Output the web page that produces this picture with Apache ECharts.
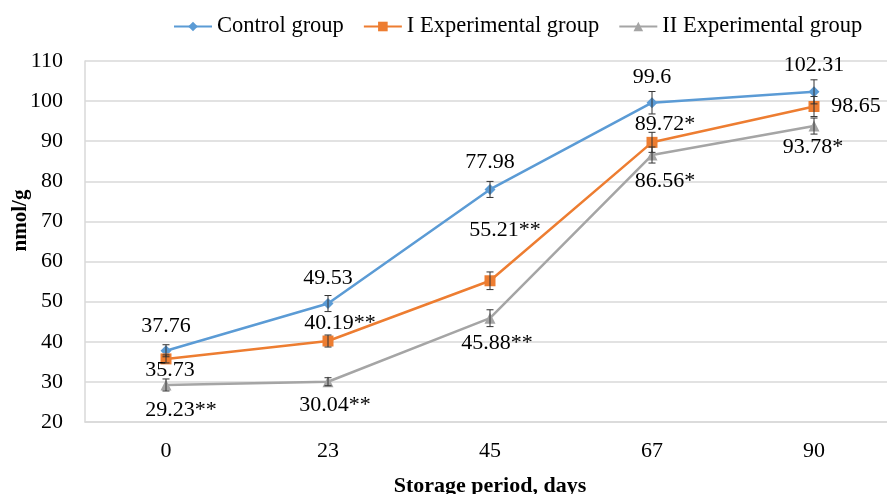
<!DOCTYPE html>
<html>
<head>
<meta charset="utf-8">
<script src="https://cdn.jsdelivr.net/npm/echarts@6/dist/echarts.min.js"></script>
<style>
  html, body { margin: 0; padding: 0; background: #fff; }
  #chart { width: 887px; height: 494px; }
</style>
</head>
<body>
<div id="chart"></div>
<script>
// storage period categories (days)
const days = ['0', '23', '45', '67', '90']

// MDA content, nmol/g
const control = [37.76, 49.53, 77.98, 99.6, 102.31]
const exp1 = [35.73, 40.19, 55.21, 89.72, 98.65]
const exp2 = [29.23, 30.04, 45.88, 86.56, 93.78]

// error bar half-widths
const controlErr = [1.5, 2, 2, 2.8, 3]
const exp1Err = [1, 1.5, 2.2, 2.5, 2.5]
const exp2Err = [1.5, 1, 2.1, 2, 2]

// significance marks
const controlMarks = ['', '', '', '', '']
const exp1Marks = ['', '**', '**', '*', '']
const exp2Marks = ['**', '**', '**', '*', '*']

// y axis ticks
const yMin = 20
const yMax = 110
const yStep = 10

// label offsets from each point, px
const controlOffsets = [[0, -25], [0, -25], [0, -27], [0, -25], [0, -27]]
const exp1Offsets = [[4, 11], [12, -18], [15, -51], [13, -18], [42, 0]]
const exp2Offsets = [[15, 25], [7, 23], [7, 25], [13, 26], [-1, 21]]

const FONT = 'Liberation Serif'
const colors = ['#5B9BD5', '#ED7D31', '#A5A5A5']

function pointData(values, marks, offsets) {
  return values.map((v, i) => ({
    value: v,
    label: { offset: offsets[i], formatter: v + marks[i] }
  }))
}

function errData(values, errs) {
  return values.map((v, i) => [i, v - errs[i], v + errs[i]])
}

function errSeries(values, errs) {
  return {
    type: 'custom',
    data: errData(values, errs),
    z: 5,
    silent: true,
    renderItem(params, api) {
      const lo = api.coord([api.value(0), api.value(1)])
      const hi = api.coord([api.value(0), api.value(2)])
      const w = 3.5
      const style = { stroke: '#333', lineWidth: 1 }
      return {
        type: 'group',
        children: [
          { type: 'line', shape: { x1: hi[0], y1: hi[1], x2: lo[0], y2: lo[1] }, style },
          { type: 'line', shape: { x1: hi[0] - w, y1: hi[1], x2: hi[0] + w, y2: hi[1] }, style },
          { type: 'line', shape: { x1: lo[0] - w, y1: lo[1], x2: lo[0] + w, y2: lo[1] }, style }
        ]
      }
    }
  }
}

function lineSeries(name, values, marks, offsets, color, symbol, size) {
  return {
    name, type: 'line', data: pointData(values, marks, offsets),
    symbol, symbolSize: size,
    lineStyle: { color, width: 2.5 },
    itemStyle: { color },
    label: {
      show: true, position: 'inside',
      fontFamily: FONT, fontSize: 22, color: '#000'
    },
    z: 3
  }
}

const chart = echarts.init(document.getElementById('chart'))
chart.setOption({
  animation: false,
  backgroundColor: '#fff',
  color: colors,
  legend: {
    top: 10, left: 168,
    itemWidth: 38, itemHeight: 12, itemGap: 19,
    textStyle: { fontFamily: FONT, fontSize: 22.5, color: '#000' },
    data: ['Control group', 'I Experimental group', 'II Experimental group']
  },
  grid: { left: 85, top: 61, width: 810, height: 361, outerBoundsMode: 'none', containLabel: false },
  xAxis: {
    type: 'category', data: days,
    name: 'Storage period, days', nameLocation: 'middle', nameGap: 53, nameMoveOverlap: false,
    nameTextStyle: { fontFamily: FONT, fontSize: 22, fontWeight: 'bold', color: '#000' },
    axisLine: { lineStyle: { color: '#d9d9d9', width: 1.5 } },
    axisTick: { show: false },
    axisLabel: { fontFamily: FONT, fontSize: 22, color: '#000', margin: 18 }
  },
  yAxis: {
    type: 'value', min: yMin, max: yMax, interval: yStep,
    name: 'nmol/g', nameLocation: 'middle', nameGap: 54, nameMoveOverlap: false,
    nameTextStyle: { fontFamily: FONT, fontSize: 21, fontWeight: 'bold', color: '#000', padding: [0, 0, 0, 42] },
    axisLine: { show: true, lineStyle: { color: '#d9d9d9', width: 1.5 } },
    axisTick: { show: false },
    axisLabel: { fontFamily: FONT, fontSize: 22, color: '#000', margin: 22 },
    splitLine: { lineStyle: { color: '#d9d9d9', width: 1.5 } }
  },
  series: [
    lineSeries('Control group', control, controlMarks, controlOffsets, colors[0], 'diamond', 11),
    lineSeries('I Experimental group', exp1, exp1Marks, exp1Offsets, colors[1], 'rect', 11),
    lineSeries('II Experimental group', exp2, exp2Marks, exp2Offsets, colors[2], 'triangle', 11),
    errSeries(control, controlErr),
    errSeries(exp1, exp1Err),
    errSeries(exp2, exp2Err)
  ]
})
</script>
</body>
</html>
